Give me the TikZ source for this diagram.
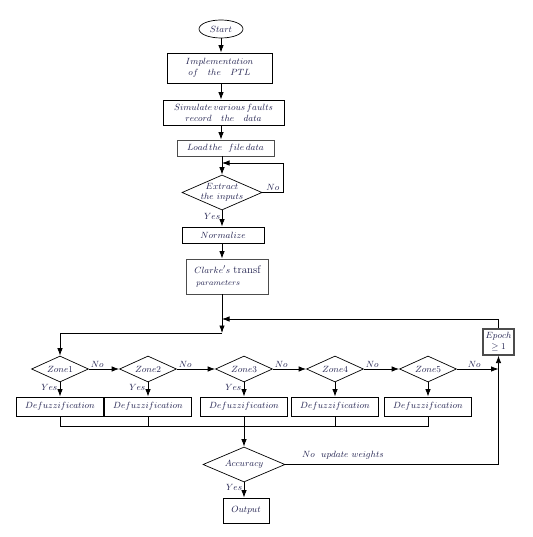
\documentclass[tikz,border=0pt]{standalone}
\usepackage{amsmath,amssymb}
\usetikzlibrary{arrows.meta,shapes.geometric}
\definecolor{txt}{RGB}{32,32,78}

\begin{document}
\begin{tikzpicture}[x=1pt,y=-1pt,
  every node/.style={font=\fontsize{9.5}{11}\selectfont,text=txt},
  proc/.style={draw=black,rectangle,inner sep=0pt,align=center,line width=0.8pt},
  graybox/.style={proc,draw=gray!60!black},
  decide/.style={draw=black,diamond,inner sep=0pt,align=center,line width=0.7pt,aspect=2.2},
  term/.style={draw=black,ellipse,inner sep=0pt,minimum width=44,minimum height=18,line width=0.7pt},
  flow/.style={-{Latex[length=7.5pt,width=5.5pt]},line width=0.8pt},
  link/.style={line width=0.8pt},
  lbl/.style={inner sep=1.5pt}]
  \path[use as bounding box] (0,0) rectangle (532,537);
  % Main column: preparation of the data.
  \node[term] (start) at (221,29) {$Start$};
  \node[proc,minimum width=105,minimum height=30] (impl) at (219.5,68)
    {$Implementation$\\$of\quad the\quad PTL$};
  \node[proc,minimum width=121,minimum height=25] (sim) at (223.5,112.5)
    {$Simulate\,various\,faults$\\$record\quad the\quad data$};
  \node[graybox,minimum width=97,minimum height=16] (load) at (225.5,148)
    {$Load\,the\ \ file\,data$};
  \coordinate (lp) at (222,163);
  \node[decide,inner sep=-4pt,minimum width=80,minimum height=35] (ext) at (222,192.5)
    {$Extract$\\[-1pt]$the\ inputs$};
  \node[proc,minimum width=82,minimum height=16] (norm) at (223,235) {$Normalize$};
  \node[graybox,minimum width=82,minimum height=35,align=left] (clk) at (227.5,276.5)
    {$Clarke's$ {\fontsize{11}{12}\selectfont transf}\\[1pt]
     \hspace{2pt}{\fontsize{8.5}{10}\selectfont$parameters$}};
  \coordinate (back) at (222,319);
  \coordinate (split) at (222,333);

  % Zone classifiers and defuzzification.
  \foreach \i/\x in {1/60,2/148,3/244,4/335,5/428} {
    \node[decide,minimum width=57,minimum height=26] (z\i) at (\x,369) {$Zone\i$};
    \node[proc,minimum width=87,minimum height=19] (d\i) at (\x,406.5) {$Defuzzification$};
    \draw[flow] (z\i.south) -- (d\i.north);
  }
  \node[graybox,line width=1.2pt,minimum width=31,minimum height=26] (ep) at (498.5,342)
    {$Epoch$\\$\geq 1$};
  \coordinate (col) at (244,426);
  \node[decide,minimum width=82,minimum height=35] (acc) at (244,464.5) {$Accuracy$};
  \node[proc,minimum width=46,minimum height=25] (out) at (246,510.5) {$Output$};

  \draw[flow] (start) -- (start |- impl.north);
  \draw[flow] (start |- impl.south) -- (start |- sim.north);
  \draw[flow] (start |- sim.south) -- (start |- load.north);
  \draw[flow] (ext |- load.south) -- (ext.north);
  \draw[flow] (ext.east) -- node[lbl,above]{$No$} ++(21,0) |- (lp);
  \draw[flow] (ext.south) -- node[lbl,left,pos=0.35]{$Yes$} (ext |- norm.north);
  \draw[flow] (ext |- norm.south) -- (ext |- clk.north);
  \draw[flow] (ext |- clk.south) -- (split);
  \draw[flow] (split) -| (z1.north);
  \foreach \i/\j in {1/2,2/3,3/4,4/5}
    \draw[flow] (z\i.east) -- node[lbl,pos=0,anchor=south west]{$No$} (z\j.west);
  \draw[flow] (z5.east) -- node[lbl,pos=0,anchor=south west,xshift=9pt]{$No$} (ep |- z5);
  \foreach \i in {1,2,3}
    \node[lbl,anchor=north east] at ([xshift=-1pt]z\i.south) {$Yes$};

  % Collecting the zone outputs.
  \draw[link] (d1.south) -- (d1.south |- col) -- (d5.south |- col) -- (d5.south);
  \foreach \i in {2,3,4}
    \draw[link] (d\i.south) -- (d\i.south |- col);
  \draw[flow] (col) -- (acc.north);
  \draw[flow] (acc.south) -- node[lbl,left,pos=0.3]{$Yes$} (acc |- out.north);
  \draw[flow] (acc.east) -- node[lbl,above=3pt,pos=0.27]{$No\ \ update\ weights$} (ep |- acc) -- (ep.south);
  \draw[flow] (ep.north) |- (back);
\end{tikzpicture}
\end{document}
